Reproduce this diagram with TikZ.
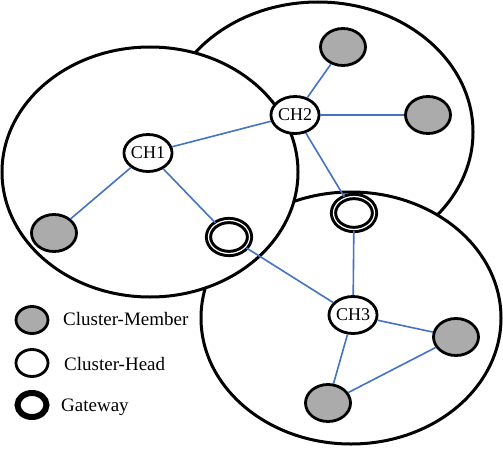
\documentclass[tikz,border=0pt]{standalone}
\usepackage{fontspec}
\setmainfont{Liberation Serif}
\usetikzlibrary{shapes.geometric}
\definecolor{linkblue}{RGB}{68,114,196}

\begin{document}
\begin{tikzpicture}[x=1pt,y=-1pt]
	\tikzstyle{cluster}=[draw=black,line width=3pt,fill=white]
	\tikzstyle{head}=[ellipse,draw=black,line width=2.8pt,fill=white,inner sep=0pt,minimum width=45pt,minimum height=37pt,font=\fontsize{18}{20}\selectfont]
	\tikzstyle{member}=[head,fill=black!33]
	\tikzstyle{gateway}=[head,line width=3pt,double=white,double distance=1.2pt,minimum width=41pt,minimum height=33pt]
	\tikzstyle{link}=[draw=linkblue,line width=1.6pt]
	\tikzstyle{keytext}=[anchor=west,inner sep=0pt,font=\fontsize{19}{22}\selectfont]
	\useasboundingbox (0,0) rectangle (503,452);
	% the three clusters, back to front
	\path[cluster] (318,132) ellipse [x radius=155, y radius=130];
	\path[cluster] (351,318) ellipse [x radius=150, y radius=126];
	\path[cluster] (150,172) ellipse [x radius=148, y radius=125];
	% cluster heads and gateways
	\node[head](ch1) at (148,153) {CH1};
	\node[head](ch2) at (295,115) {CH2};
	\node[head](ch3) at (353,315) {CH3};
	\node[gateway](gw1) at (229,237) {};
	\node[gateway](gw2) at (354,213) {};
	% members
	\node[member](m1) at (54,233) {};
	\node[member](m2) at (343,47) {};
	\node[member](m3) at (428,115) {};
	\node[member](m4) at (456,337) {};
	\node[member](m5) at (328,403) {};
	% links
	\draw[link] (ch1) to (ch2);
	\draw[link] (ch1) to (m1);
	\draw[link] (ch1) to (gw1);
	\draw[link] (gw1) to (ch3);
	\draw[link] (ch2) to (m2);
	\draw[link] (ch2) to (m3);
	\draw[link] (ch2) to (gw2);
	\draw[link] (gw2) to (ch3);
	\draw[link] (ch3) to (m4);
	\draw[link] (ch3) to (m5);
	\draw[link] (m5) to (m4);
	% legend
	\node[member,minimum width=32pt,minimum height=27pt](km) at (32,320) {};
	\node[head,minimum width=32pt,minimum height=27pt](kh) at (32,363) {};
	\node[head,line width=6pt,minimum width=29pt,minimum height=24pt](kg) at (32,405) {};
	\node[keytext](tm) at (63,319) {Cluster-Member};
	\node[keytext](th) at (64,364) {Cluster-Head};
	\node[keytext](tg) at (61,407) {Gateway};
\end{tikzpicture}
\end{document}
